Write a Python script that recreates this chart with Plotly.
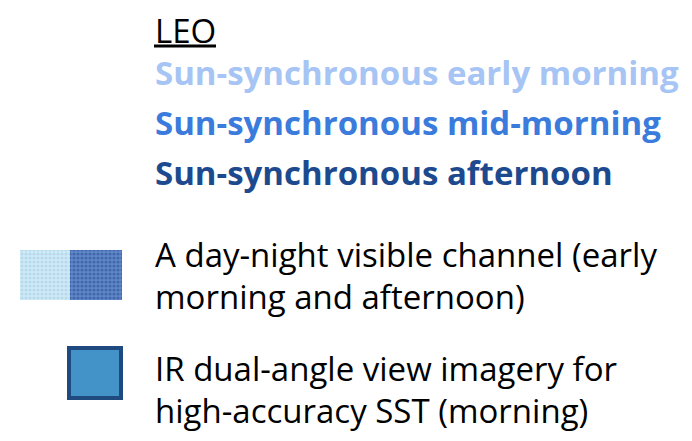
import plotly.graph_objects as go

# legend content
title = "LEO"
orbit_labels = ["Sun-synchronous early morning", "Sun-synchronous mid-morning", "Sun-synchronous afternoon"]
orbit_colors = ["#a6c4f4", "#3b7bdc", "#1d4a8e"]

channel_lines = ["A day-night visible channel (early", "morning and afternoon)"]
ir_lines = ["IR dual-angle view imagery for", "high-accuracy SST (morning)"]

FONT = "Open Sans"
SIZE = 33
W, H = 692, 441

fig = go.Figure()

# patterned swatch: light (early morning) + dark (afternoon)
swatch_x = [[20, 70], [70, 122]]
swatch_fill = ["#9ccbe6", "#23478c"]
swatch_bg = ["#d0e9f5", "#6088c9"]
for (x0, x1), fg, bg in zip(swatch_x, swatch_fill, swatch_bg):
    fig.add_trace(go.Scatter(
        x=[x0, x1, x1, x0, x0], y=[250, 250, 300, 300, 250],
        mode="lines", fill="toself", line=dict(width=0),
        fillcolor=bg,
        fillpattern=dict(shape=".", fgcolor=fg, bgcolor=bg, size=4, solidity=0.5),
        hoverinfo="skip", showlegend=False,
    ))

# IR swatch
fig.add_shape(type="rect", x0=69, x1=121, y0=348, y1=398,
              line=dict(color="#1f4a7f", width=4), fillcolor="#4393c9")

# LEO title + underline
fig.add_annotation(x=153, y=30, text=title, showarrow=False, xanchor="left", yanchor="middle",
                   font=dict(family=FONT, size=SIZE, color="black"))
fig.add_shape(type="line", x0=154, x1=216, y0=46, y1=46, line=dict(color="black", width=3))

for lab, col, yy in zip(orbit_labels, orbit_colors, [72, 122, 172]):
    fig.add_annotation(x=153, y=yy, text=f"<b>{lab}</b>", showarrow=False, xanchor="left",
                       yanchor="middle", font=dict(family=FONT, size=SIZE, color=col))

for line, yy in zip(channel_lines + ir_lines, [254, 296, 368, 410]):
    fig.add_annotation(x=153, y=yy, text=line, showarrow=False, xanchor="left",
                       yanchor="middle", font=dict(family=FONT, size=SIZE, color="black"))

fig.update_xaxes(range=[0, W], visible=False, fixedrange=True)
fig.update_yaxes(range=[H, 0], visible=False, fixedrange=True)
fig.update_layout(width=W, height=H, margin=dict(l=0, r=0, t=0, b=0),
                  paper_bgcolor="white", plot_bgcolor="white")

# page body has an 8px default margin; drop it so the figure sits at 0,0
fig.write_html("out.html", config={"displayModeBar": False},
               post_script="document.body.style.margin='0';")
